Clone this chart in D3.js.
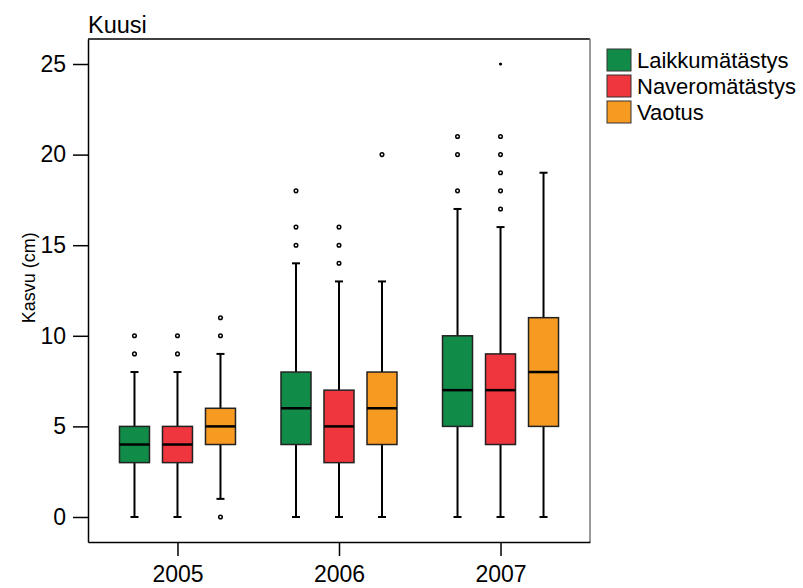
<!DOCTYPE html>
<html>
<head>
<meta charset="utf-8">
<script src="https://cdn.jsdelivr.net/npm/d3@7"></script>
<style>
  body { margin: 0; background: #fff; }
  svg { font-family: "Liberation Sans", Arial, sans-serif; }
</style>
</head>
<body>
<div id="chart"></div>
<script>
// data (rows = series, columns = years)
const years = ['2005', '2006', '2007'];
const series = ['Laikkumätästys', 'Naveromätästys', 'Vaotus'];
const yTicks = [0, 5, 10, 15, 20, 25];
const whiskerLow  = [[0, 0, 0], [0, 0, 0], [1, 0, 0]];
const q1          = [[3, 4, 5], [3, 3, 4], [4, 4, 5]];
const median      = [[4, 6, 7], [4, 5, 7], [5, 6, 8]];
const q3          = [[5, 8, 10], [5, 7, 9], [6, 8, 11]];
const whiskerHigh = [[8, 14, 17], [8, 13, 16], [9, 13, 19]];
const outliers = [
  [[9, 10], [15, 16, 18], [18, 20, 21]],
  [[9, 10], [14, 15, 16], [17, 18, 19, 20, 21]],
  [[0, 10, 11], [20], []]
];
const extremes = [
  [[], [], []],
  [[], [], [25]],
  [[], [], []]
];

const chart = {};

chart.create = function(config){
  this.config = config;
  this.config.width_svg = 803;
  this.config.height_svg = 588;
  this.config.margin = {top: 39, right: 213, bottom: 46, left: 88};
  this.config.colorRule = {
    'Laikkumätästys': '#118b48',
    'Naveromätästys': '#ef353d',
    'Vaotus': '#f79a21'
  };
  this.config.svg = d3.select(`#${config.target}`)
                      .append('svg')
                      .attr('width', this.config.width_svg)
                      .attr('height', this.config.height_svg);
  this.update();
};

chart.update = function(){
  let margin = this.config.margin,
      width_svg = this.config.width_svg,
      height_svg = this.config.height_svg,
      colorRule = this.config.colorRule,
      svg = this.config.svg;
  let x0 = margin.left, x1 = width_svg - margin.right;
  let y0 = height_svg - margin.bottom, y1 = margin.top;

  let xScale = d3.scalePoint().domain(years).range([x0, x1]).padding(0.554);
  let sScale = d3.scalePoint().domain(series).range([-43, 43]);
  let yScale = d3.scaleLinear().domain([-1.38, 26.38]).range([y0, y1]);
  let boxW = 30, capW = 8;

  // frame
  svg.append('line').attr('x1', x0).attr('x2', x1).attr('y1', y1).attr('y2', y1)
     .attr('stroke', '#000').attr('stroke-width', 1.5);
  svg.append('line').attr('x1', x1).attr('x2', x1).attr('y1', y1).attr('y2', y0)
     .attr('stroke', '#777').attr('stroke-width', 1.5);

  // y axis
  svg.append('g')
     .attr('transform', `translate(${x0},0)`)
     .call(d3.axisLeft(yScale).tickValues(yTicks).tickSize(15).tickPadding(7).tickSizeOuter(0))
     .call(g => g.select('.domain').attr('stroke-width', 1.5))
     .call(g => g.selectAll('.tick line').attr('stroke-width', 1.5))
     .call(g => g.selectAll('.tick text').attr('font-size', 23).attr('fill', '#000'));

  // x axis
  svg.append('g')
     .attr('transform', `translate(0,${y0})`)
     .call(d3.axisBottom(xScale).tickSize(14).tickPadding(10).tickSizeOuter(0))
     .call(g => g.select('.domain').attr('stroke-width', 1.5))
     .call(g => g.selectAll('.tick line').attr('stroke-width', 1.5))
     .call(g => g.selectAll('.tick text').attr('font-size', 23).attr('fill', '#000'));

  // titles
  svg.append('text').attr('x', x0).attr('y', 33).attr('font-size', 23.5).text('Kuusi');
  svg.append('text')
     .attr('transform', `translate(35,${yScale(13.2)}) rotate(-90)`)
     .attr('text-anchor', 'middle')
     .style('font-size', '18px')
     .text('Kasvu (cm)');

  // boxes
  let boxes = [];
  series.forEach((s, si) => years.forEach((yr, yi) => boxes.push({
    s, yr,
    lo: whiskerLow[si][yi], q1: q1[si][yi], med: median[si][yi],
    q3: q3[si][yi], hi: whiskerHigh[si][yi],
    out: outliers[si][yi], ext: extremes[si][yi]
  })));

  let g = svg.append('g').selectAll('g').data(boxes).enter().append('g')
             .attr('transform', d => `translate(${xScale(d.yr) + sScale(d.s)},0)`);
  g.append('line').attr('y1', d => yScale(d.lo)).attr('y2', d => yScale(d.q1))
   .attr('stroke', '#000').attr('stroke-width', 2);
  g.append('line').attr('y1', d => yScale(d.q3)).attr('y2', d => yScale(d.hi))
   .attr('stroke', '#000').attr('stroke-width', 2);
  g.append('line').attr('x1', -capW / 2).attr('x2', capW / 2)
   .attr('y1', d => yScale(d.lo)).attr('y2', d => yScale(d.lo))
   .attr('stroke', '#000').attr('stroke-width', 2);
  g.append('line').attr('x1', -capW / 2).attr('x2', capW / 2)
   .attr('y1', d => yScale(d.hi)).attr('y2', d => yScale(d.hi))
   .attr('stroke', '#000').attr('stroke-width', 2);
  g.append('rect').attr('x', -boxW / 2).attr('width', boxW)
   .attr('y', d => yScale(d.q3)).attr('height', d => yScale(d.q1) - yScale(d.q3))
   .attr('fill', d => colorRule[d.s]).attr('stroke', '#222').attr('stroke-width', 1.5);
  g.append('line').attr('x1', -boxW / 2).attr('x2', boxW / 2)
   .attr('y1', d => yScale(d.med)).attr('y2', d => yScale(d.med))
   .attr('stroke', '#000').attr('stroke-width', 2.5);
  g.selectAll('circle.out').data(d => d.out).enter().append('circle')
   .attr('class', 'out').attr('cy', v => yScale(v)).attr('r', 1.8)
   .attr('fill', '#fff').attr('stroke', '#000').attr('stroke-width', 1.5);
  g.selectAll('circle.ext').data(d => d.ext).enter().append('circle')
   .attr('class', 'ext').attr('cy', v => yScale(v)).attr('r', 1.6)
   .attr('fill', '#000');

  // legend
  let lg = svg.append('g').attr('transform', `translate(607,49)`);
  let item = lg.selectAll('g').data(series).enter().append('g')
               .attr('transform', (d, i) => `translate(0,${i * 26})`);
  item.append('rect').attr('width', 24).attr('height', 22)
      .attr('fill', d => colorRule[d]).attr('stroke', '#333').attr('stroke-width', 1);
  item.append('text').attr('x', 30).attr('y', 19).attr('font-size', 22).text(d => d);
};

chart.create({target: 'chart'});
</script>
</body>
</html>
